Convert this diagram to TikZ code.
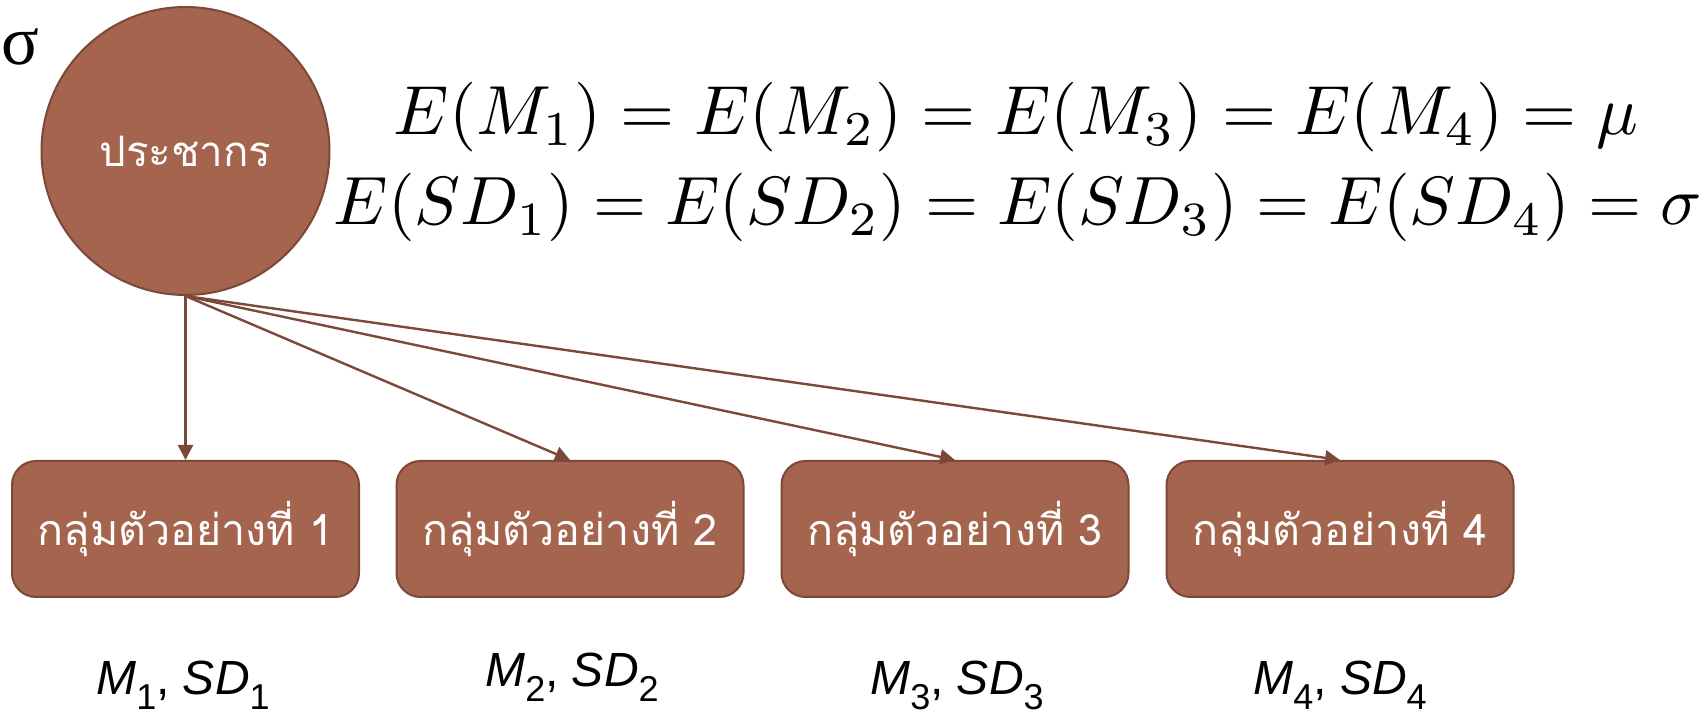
\documentclass[tikz,border=0pt]{standalone}
\usepackage{fontspec}
\usepackage{graphicx}
\newfontfamily\thaifont[Script=Thai]{Loma}
\newfontfamily\lblfont{Liberation Sans}
\newfontfamily\greekfont{Liberation Serif}
\usetikzlibrary{arrows.meta}
\definecolor{fillbrown}{RGB}{164,100,78}
\definecolor{edgebrown}{RGB}{124,72,56}
\tikzset{
  popnode/.style={circle, draw=edgebrown, fill=fillbrown, line width=1pt,
    minimum size=144pt, inner sep=0pt, text=white,
    font=\thaifont\fontsize{21}{25}\selectfont},
  samplebox/.style={rectangle, rounded corners=12pt, draw=edgebrown, fill=fillbrown,
    line width=1pt, minimum width=173.5pt, minimum height=68pt, inner sep=0pt,
    text=white, font=\thaifont\fontsize{21.5}{25}\selectfont},
  conn/.style={draw=edgebrown, line width=1.2pt, -{Triangle[length=7.5pt,width=7.5pt]}},
  stat/.style={font=\lblfont\fontsize{24}{28}\selectfont, inner sep=0pt, anchor=base},
  eqn/.style={inner sep=0pt, anchor=base},
}
\newcommand{\lowsub}[1]{\raisebox{-7.5pt}{\fontsize{18}{20}\selectfont\upshape #1}}
\newcommand{\statlbl}[1]{{\itshape M}\lowsub{#1}, {\itshape SD}\lowsub{#1}}
\begin{document}
\begin{tikzpicture}[x=0.5pt,y=-0.5pt]
\useasboundingbox (0,0) rectangle (1708,715);
% sigma at top-left
\node[inner sep=0pt, anchor=base west, font=\greekfont\fontsize{35}{40}\selectfont] (sig) at (1.5,65) {σ};
% population
\node[popnode] (pop) at (185.5,151) {ประชากร};
% equations
\node[eqn] (eq1) at (1016,135) {\resizebox{622pt}{!}{$E(M_1) = E(M_2) = E(M_3) = E(M_4) = \mu$}};
\node[eqn] (eq2) at (1018,225) {\resizebox{684pt}{!}{$E(SD_1) = E(SD_2) = E(SD_3) = E(SD_4) = \sigma$}};
% sample boxes
\node[samplebox] (s1) at (185.5,529) {กลุ่มตัวอย่างที่ 1};
\node[samplebox] (s2) at (570,529) {กลุ่มตัวอย่างที่ 2};
\node[samplebox] (s3) at (955,529) {กลุ่มตัวอย่างที่ 3};
\node[samplebox] (s4) at (1340,529) {กลุ่มตัวอย่างที่ 4};
% connectors
\draw[conn] (pop.south) -- (s1.north);
\draw[conn] (pop.south) -- (s2.north);
\draw[conn] (pop.south) -- (s3.north);
\draw[conn] (pop.south) -- (s4.north);
% statistics labels
\node[stat] (m1) at (183,694) {\statlbl{1}};
\node[stat] (m2) at (572,686) {\statlbl{2}};
\node[stat] (m3) at (957,694) {\statlbl{3}};
\node[stat] (m4) at (1340,694) {\statlbl{4}};
\end{tikzpicture}
\end{document}
